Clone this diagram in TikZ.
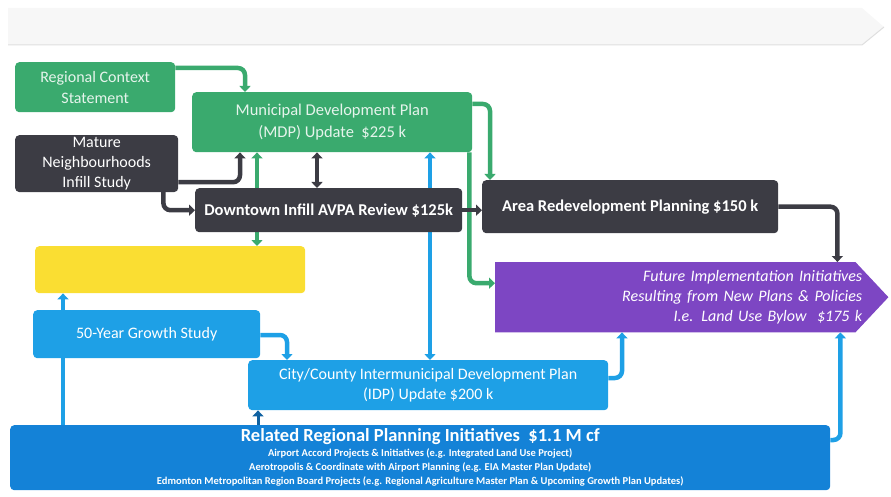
\documentclass[tikz,border=0pt]{standalone}
\usepackage{fontspec}
\setmainfont{Carlito}
\usepackage{xcolor}
\usetikzlibrary{arrows.meta,positioning,calc}
\definecolor{grn}{HTML}{3AAA6E}
\definecolor{drk}{HTML}{3C3C44}
\definecolor{ylw}{HTML}{FADE32}
\definecolor{lblu}{HTML}{1EA0E6}
\definecolor{dblu}{HTML}{1482D7}
\definecolor{prp}{HTML}{7D46C3}
\definecolor{lgtx}{HTML}{E6F4EC}
\pgfdeclarelayer{back}
\pgfsetlayers{back,main}
\tikzset{
  box/.style={rounded corners=4pt,align=center,anchor=north west,inner sep=2pt,text=white,font=\fontsize{16}{20}\selectfont},
  ar/.style={-{Triangle[length=6pt,width=11pt]},line width=4.5pt,rounded corners=7pt},
  dar/.style={{Triangle[length=6pt,width=11pt]}-{Triangle[length=6pt,width=11pt]},line width=4.5pt}
}
\begin{document}
\begin{tikzpicture}[x=1pt,y=-1pt]
\useasboundingbox (0,0) rectangle (891,497);
% time banner
\fill[gray!6] (8,8) -- (862,8) -- (884,27) -- (862,45) -- (8,45) -- cycle;
\draw[gray!25,line width=1pt] (8,45) -- (862,45) -- (884,27);

\node[box,fill=grn,text=lgtx,minimum width=160pt,minimum height=50pt,font=\fontsize{16}{21}\selectfont] (rcs) at (15,62) {Regional Context\\Statement};
\node[box,fill=grn,text=lgtx,minimum width=280pt,minimum height=60pt,font=\fontsize{16.5}{22}\selectfont] (mdp) at (192,92) {Municipal Development Plan\\(MDP) Update~~\$225 k};
\node[box,fill=drk,minimum width=163pt,minimum height=53pt] (mnis) at (15,135) {Mature\\Neighbourhoods\\Infill Study};
\node[box,fill=drk,minimum width=267pt,minimum height=44pt,font=\fontsize{16.5}{20}\selectfont\bfseries] (dtr) at (195,188) {Downtown Infill AVPA Review \$125k};
\node[box,fill=drk,minimum width=296pt,minimum height=53pt,font=\fontsize{16.5}{20}\selectfont\bfseries] (ardp) at (482,180) {Area Redevelopment Planning \$150 k};
\node[box,fill=ylw,minimum width=270pt,minimum height=47pt] (ylwb) at (35,246) {};
\node[box,fill=lblu,minimum width=227pt,minimum height=48pt] (gro) at (33,310) {50-Year Growth Study};
\node[box,fill=lblu,minimum width=360pt,minimum height=50pt] (idp) at (248,360) {City/County Intermunicipal Development Plan\\(IDP) Update \$200 k};
\node[box,fill=dblu,minimum width=820pt,minimum height=65pt] (rrp) at (10,425) {{\fontsize{18.5}{19}\selectfont\bfseries Related Regional Planning Initiatives~~\$1.1 M cf}\\[-5pt]
  {\fontsize{10.5}{12.5}\selectfont\bfseries Airport Accord Projects \& Initiatives (e.g. Integrated Land Use Project)}\\[-6pt]
  {\fontsize{10.5}{12.5}\selectfont\bfseries Aerotropolis \& Coordinate with Airport Planning (e.g. EIA Master Plan Update)}\\[-6pt]
  {\fontsize{10.5}{12.5}\selectfont\bfseries Edmonton Metropolitan Region Board Projects (e.g. Regional Agriculture Master Plan \& Upcoming Growth Plan Updates)}};
\node[box,rounded corners=0pt,minimum width=372pt,minimum height=70pt,text width=362pt,align=right,font=\fontsize{16}{20}\selectfont\itshape] (fut) at (495,262) {Future Implementation Initiatives\\Resulting from New Plans \& Policies\\I.e. Land Use Bylow~~\$175 k};

\begin{pgfonlayer}{back}
% purple arrow shape
\fill[prp] (fut.north west) -- ([xshift=-12pt]fut.north east) -- ([xshift=21pt]fut.east) -- ([xshift=-12pt]fut.south east) -- (fut.south west) -- cycle;
% green links
\draw[ar,grn] ([yshift=-6pt]rcs.north east) -| ([xshift=53pt]mdp.north west);
\draw[dar,grn] ([xshift=65pt]mdp.south west) -- ([xshift=222pt]ylwb.north west);
\draw[ar,grn] ([yshift=-12pt]mdp.north east) -| ([xshift=8pt]ardp.north west);
\draw[ar,grn] ([xshift=-3pt]mdp.south east) |- ([yshift=14pt]fut.west);
% dark links
\draw[ar,drk] ([yshift=10pt]mnis.south east) -| ([xshift=48pt]mdp.south west);
\draw[ar,drk] ([xshift=-15pt]mnis.south east) |- (dtr.west);
\draw[dar,drk] ([xshift=125pt]mdp.south west) -- ([xshift=122pt]dtr.north west);
\draw[ar,drk] (dtr.east) -- (dtr.east -| ardp.west);
\draw[ar,drk] (ardp.east) -| ([xshift=-30pt]fut.north east);
% blue links
\draw[dar,lblu] ([xshift=238pt]mdp.south west) -- ([xshift=182pt]idp.north west);
\draw[ar,lblu] ([xshift=53pt]rrp.north west) -- ([xshift=28pt]ylwb.south west);
\draw[ar,lblu] ([yshift=-25pt]gro.north east) -| ([xshift=39pt]idp.north west);
\draw[ar,lblu] ([yshift=-18pt]idp.north east) -| ([xshift=127pt]fut.south west);
\draw[ar,dblu!75!black,line width=3pt] ([xshift=248pt]rrp.north west) -- ([xshift=10pt]idp.south west);
\draw[ar,lblu] ([yshift=-15pt]rrp.north east) -| ([xshift=-27pt]fut.south east);
\end{pgfonlayer}
\end{tikzpicture}
\end{document}
